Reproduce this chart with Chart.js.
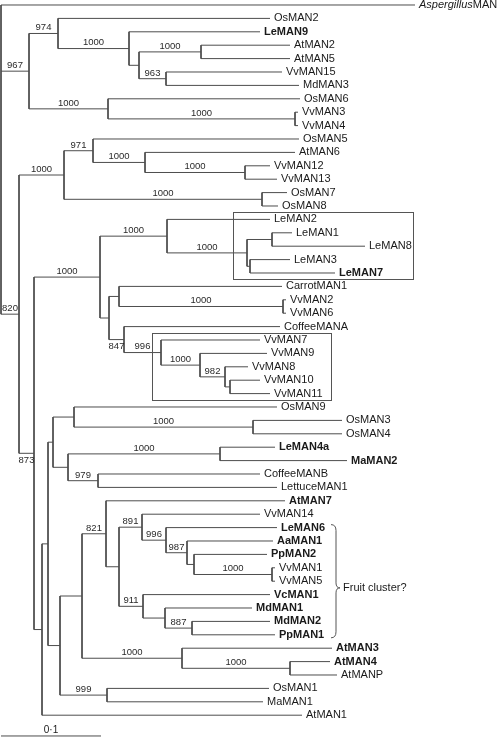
<!DOCTYPE html>
<html>
<head>
<meta charset="utf-8">
<script src="https://cdn.jsdelivr.net/npm/chart.js@4.4.1/dist/chart.umd.min.js"></script>
<style>
  html, body { margin: 0; padding: 0; background: #fff; }
  #wrap { position: relative; width: 498px; height: 738px; }
</style>
</head>
<body>
<div id="wrap"><canvas id="tree"></canvas></div>
<script>
'use strict';

// taxa, top to bottom
const taxa = [
  'AspergillusMAN', 'OsMAN2', 'LeMAN9', 'AtMAN2', 'AtMAN5', 'VvMAN15', 'MdMAN3', 'OsMAN6',
  'VvMAN3', 'VvMAN4', 'OsMAN5', 'AtMAN6', 'VvMAN12', 'VvMAN13', 'OsMAN7', 'OsMAN8',
  'LeMAN2', 'LeMAN1', 'LeMAN8', 'LeMAN3', 'LeMAN7', 'CarrotMAN1', 'VvMAN2', 'VvMAN6',
  'CoffeeMANA', 'VvMAN7', 'VvMAN9', 'VvMAN8', 'VvMAN10', 'VvMAN11', 'OsMAN9', 'OsMAN3',
  'OsMAN4', 'LeMAN4a', 'MaMAN2', 'CoffeeMANB', 'LettuceMAN1', 'AtMAN7', 'VvMAN14', 'LeMAN6',
  'AaMAN1', 'PpMAN2', 'VvMAN1', 'VvMAN5', 'VcMAN1', 'MdMAN1', 'MdMAN2', 'PpMAN1',
  'AtMAN3', 'AtMAN4', 'AtMANP', 'OsMAN1', 'MaMAN1', 'AtMAN1'
];

// distance from root to each tip (substitutions per site)
const tipDepth = [
  0.414, 0.269, 0.259, 0.289, 0.289, 0.281, 0.298, 0.299,
  0.297, 0.297, 0.298, 0.294, 0.269, 0.276, 0.286, 0.277,
  0.269, 0.291, 0.364, 0.289, 0.334, 0.281, 0.285, 0.285,
  0.279, 0.259, 0.266, 0.247, 0.259, 0.269, 0.276, 0.341,
  0.341, 0.274, 0.346, 0.259, 0.276, 0.284, 0.259, 0.276,
  0.272, 0.266, 0.274, 0.274, 0.269, 0.251, 0.269, 0.274,
  0.331, 0.329, 0.336, 0.268, 0.262, 0.301
];

const boldTaxa = [
  'LeMAN9', 'LeMAN7', 'LeMAN4a', 'MaMAN2', 'AtMAN7', 'LeMAN6', 'AaMAN1', 'PpMAN2',
  'VcMAN1', 'MdMAN1', 'MdMAN2', 'PpMAN1', 'AtMAN3', 'AtMAN4'
];

// internal nodes: [id, depth, children (tip index or node id), bootstrap]
const clades = [
  ['root', 0.000, [0, 'a', 'b'], null],
  ['a', 0.028, ['a1', 'a2'], 967],
  ['a1', 0.057, [1, 'a1b'], 974],
  ['a1b', 0.128, [2, 'a1c'], 1000],
  ['a1c', 0.138, ['a1d', 'a1e'], null],
  ['a1d', 0.200, [3, 4], 1000],
  ['a1e', 0.165, [5, 6], 963],
  ['a2', 0.107, [7, 'a2b'], 1000],
  ['a2b', 0.294, [8, 9], 1000],
  ['b', 0.018, ['c', 'd'], 820],
  ['c', 0.063, ['c1', 'c2'], 1000],
  ['c1', 0.092, [10, 'c1b'], 971],
  ['c1b', 0.144, [11, 'c1c'], 1000],
  ['c1c', 0.244, [12, 13], 1000],
  ['c2', 0.261, [14, 15], 1000],
  ['d', 0.033, ['e', 'f'], 873],
  ['e', 0.099, ['e1', 'e2'], 1000],
  ['e1', 0.166, [16, 'e1b'], 1000],
  ['e1b', 0.246, ['e1c', 'e1d'], 1000],
  ['e1c', 0.271, [17, 18], null],
  ['e1d', 0.249, [19, 20], null],
  ['e2', 0.108, ['e3', 'e4'], null],
  ['e3', 0.118, [21, 'e3b'], null],
  ['e3b', 0.282, [22, 23], 1000],
  ['e4', 0.123, [24, 'e5'], 847],
  ['e5', 0.160, [25, 'e6'], 996],
  ['e6', 0.199, [26, 'e7'], 1000],
  ['e7', 0.224, [27, 'e8'], 982],
  ['e8', 0.229, [28, 29], null],
  ['f', 0.041, ['g', 53], null],
  ['g', 0.047, ['h', 'k'], null],
  ['h', 0.052, ['h1', 'h2'], null],
  ['h1', 0.073, [30, 'h1b'], null],
  ['h1b', 0.252, [31, 32], 1000],
  ['h2', 0.067, ['h2a', 'h2b'], null],
  ['h2a', 0.219, [33, 34], 1000],
  ['h2b', 0.097, [35, 36], 979],
  ['k', 0.059, ['m', 'k2'], null],
  ['k2', 0.106, [51, 52], 999],
  ['m', 0.081, ['m1', 'm2'], null],
  ['m1', 0.105, [37, 'p'], 821],
  ['p', 0.118, ['p1', 'q1'], null],
  ['p1', 0.141, [38, 'p2'], 891],
  ['p2', 0.165, [39, 'p3'], 996],
  ['p3', 0.186, [40, 'p4'], 987],
  ['p4', 0.193, [41, 'p5'], null],
  ['p5', 0.271, [42, 43], 1000],
  ['q1', 0.142, [44, 'q2'], 911],
  ['q2', 0.164, [45, 'q3'], null],
  ['q3', 0.191, [46, 47], 887],
  ['m2', 0.181, [48, 'm3'], 1000],
  ['m3', 0.289, [49, 50], 1000]
];

// bootstrap values written under their branch instead of above
const supportBelow = ['d', 'e4'];

const scaleBar = 0.1;

// ---- build segments ----
const byId = {};
clades.forEach(c => { byId[c[0]] = c; });

const yOf = (n) => {
  if (typeof n === 'number') return n;
  const kids = byId[n][2];
  return (yOf(kids[0]) + yOf(kids[kids.length - 1])) / 2;
};
const depthOf = (n) => typeof n === 'number' ? tipDepth[n] : byId[n][1];

const segs = [];
clades.forEach(([id, depth, kids]) => {
  segs.push({x: depth, y: yOf(kids[0])}, {x: depth, y: yOf(kids[kids.length - 1])}, {x: depth, y: null});
  kids.forEach(k => {
    const y = yOf(k);
    segs.push({x: depth, y: y}, {x: depthOf(k), y: y}, {x: depthOf(k), y: null});
  });
});

const barRow = 54.55;

// labels, boxes, brace
const treeText = {
  id: 'treeText',
  afterDatasetsDraw(chart) {
    const ctx = chart.ctx;
    const xs = chart.scales.x, ys = chart.scales.y;
    const px = v => xs.getPixelForValue(v);
    const py = v => ys.getPixelForValue(v);
    ctx.save();

    // tip names
    ctx.textBaseline = 'middle';
    ctx.textAlign = 'left';
    taxa.forEach((name, i) => {
      const x = px(tipDepth[i]) + 4, y = py(i);
      ctx.fillStyle = '#1a1a1a';
      if (name === 'AspergillusMAN') {
        ctx.font = 'italic 11px "Liberation Sans", Arial, sans-serif';
        ctx.fillText('Aspergillus', x, y);
        const w = ctx.measureText('Aspergillus').width;
        ctx.font = '11px "Liberation Sans", Arial, sans-serif';
        ctx.fillText('MAN', x + w, y);
        return;
      }
      ctx.font = (boldTaxa.includes(name) ? 'bold ' : '') + '11px "Liberation Sans", Arial, sans-serif';
      ctx.fillText(name, x, y);
    });

    // bootstrap values centred on the branch leading to the node
    ctx.font = '9.5px "Liberation Sans", Arial, sans-serif';
    ctx.fillStyle = '#2a2a2a';
    ctx.textAlign = 'center';
    clades.forEach(([id, depth, kids, bs]) => {
      kids.forEach(k => {
        if (typeof k === 'number') return;
        const c = byId[k];
        if (c[3] == null) return;
        const x = (px(depth) + px(c[1])) / 2;
        const y = py(yOf(k));
        if (supportBelow.includes(k)) {
          ctx.textBaseline = 'top';
          ctx.fillText(String(c[3]), x, y + 2);
        } else {
          ctx.textBaseline = 'bottom';
          ctx.fillText(String(c[3]), x, y - 1);
        }
      });
    });

    // boxes round the tomato and grape clusters
    ctx.strokeStyle = '#555';
    ctx.lineWidth = 1;
    const box = (d0, d1, r0, r1) => {
      const x0 = Math.round(px(d0)) + 0.5, x1 = Math.round(px(d1)) + 0.5;
      const y0 = Math.round(py(r0 - 0.55)) + 0.5, y1 = Math.round(py(r1 + 0.45)) + 0.5;
      ctx.strokeRect(x0, y0, x1 - x0, y1 - y0);
    };
    box(0.232, 0.412, 16, 20);
    box(0.151, 0.330, 25, 29);

    // brace for the fruit cluster
    const bx = px(0.335), top = py(39) - 3, bot = py(47) + 3, mid = py(43.5);
    ctx.beginPath();
    ctx.moveTo(bx - 5, top);
    ctx.quadraticCurveTo(bx, top, bx, top + 6);
    ctx.lineTo(bx, mid - 5);
    ctx.quadraticCurveTo(bx, mid, bx + 4, mid);
    ctx.quadraticCurveTo(bx, mid, bx, mid + 5);
    ctx.lineTo(bx, bot - 6);
    ctx.quadraticCurveTo(bx, bot, bx - 5, bot);
    ctx.stroke();
    ctx.font = '11px "Liberation Sans", Arial, sans-serif';
    ctx.fillStyle = '#1a1a1a';
    ctx.textAlign = 'left';
    ctx.textBaseline = 'middle';
    ctx.fillText('Fruit cluster?', bx + 7, mid);

    // scale bar label
    ctx.textAlign = 'center';
    ctx.textBaseline = 'bottom';
    ctx.font = '10px "Liberation Sans", Arial, sans-serif';
    ctx.fillText('0\u00b71', (px(0) + px(scaleBar)) / 2, py(barRow) - 1);
    ctx.restore();
  }
};

new Chart(document.getElementById('tree'), {
  type: 'scatter',
  data: {
    datasets: [
      {
        data: segs,
        showLine: true,
        spanGaps: false,
        borderColor: '#4d4d4d',
        borderWidth: 1,
        pointRadius: 0,
        tension: 0
      },
      {
        data: [{x: 0, y: barRow}, {x: scaleBar, y: barRow}],
        showLine: true,
        borderColor: '#4d4d4d',
        borderWidth: 1,
        pointRadius: 0
      }
    ]
  },
  options: {
    responsive: true,
    maintainAspectRatio: false,
    animation: false,
    events: [],
    layout: { padding: 0 },
    plugins: {
      legend: { display: false },
      tooltip: { enabled: false }
    },
    scales: {
      x: { type: 'linear', display: false, min: -0.001, max: 0.497 },
      y: { type: 'linear', display: false, reverse: true, min: -0.3731, max: 54.7015 }
    }
  },
  plugins: [treeText]
});
</script>
</body>
</html>
